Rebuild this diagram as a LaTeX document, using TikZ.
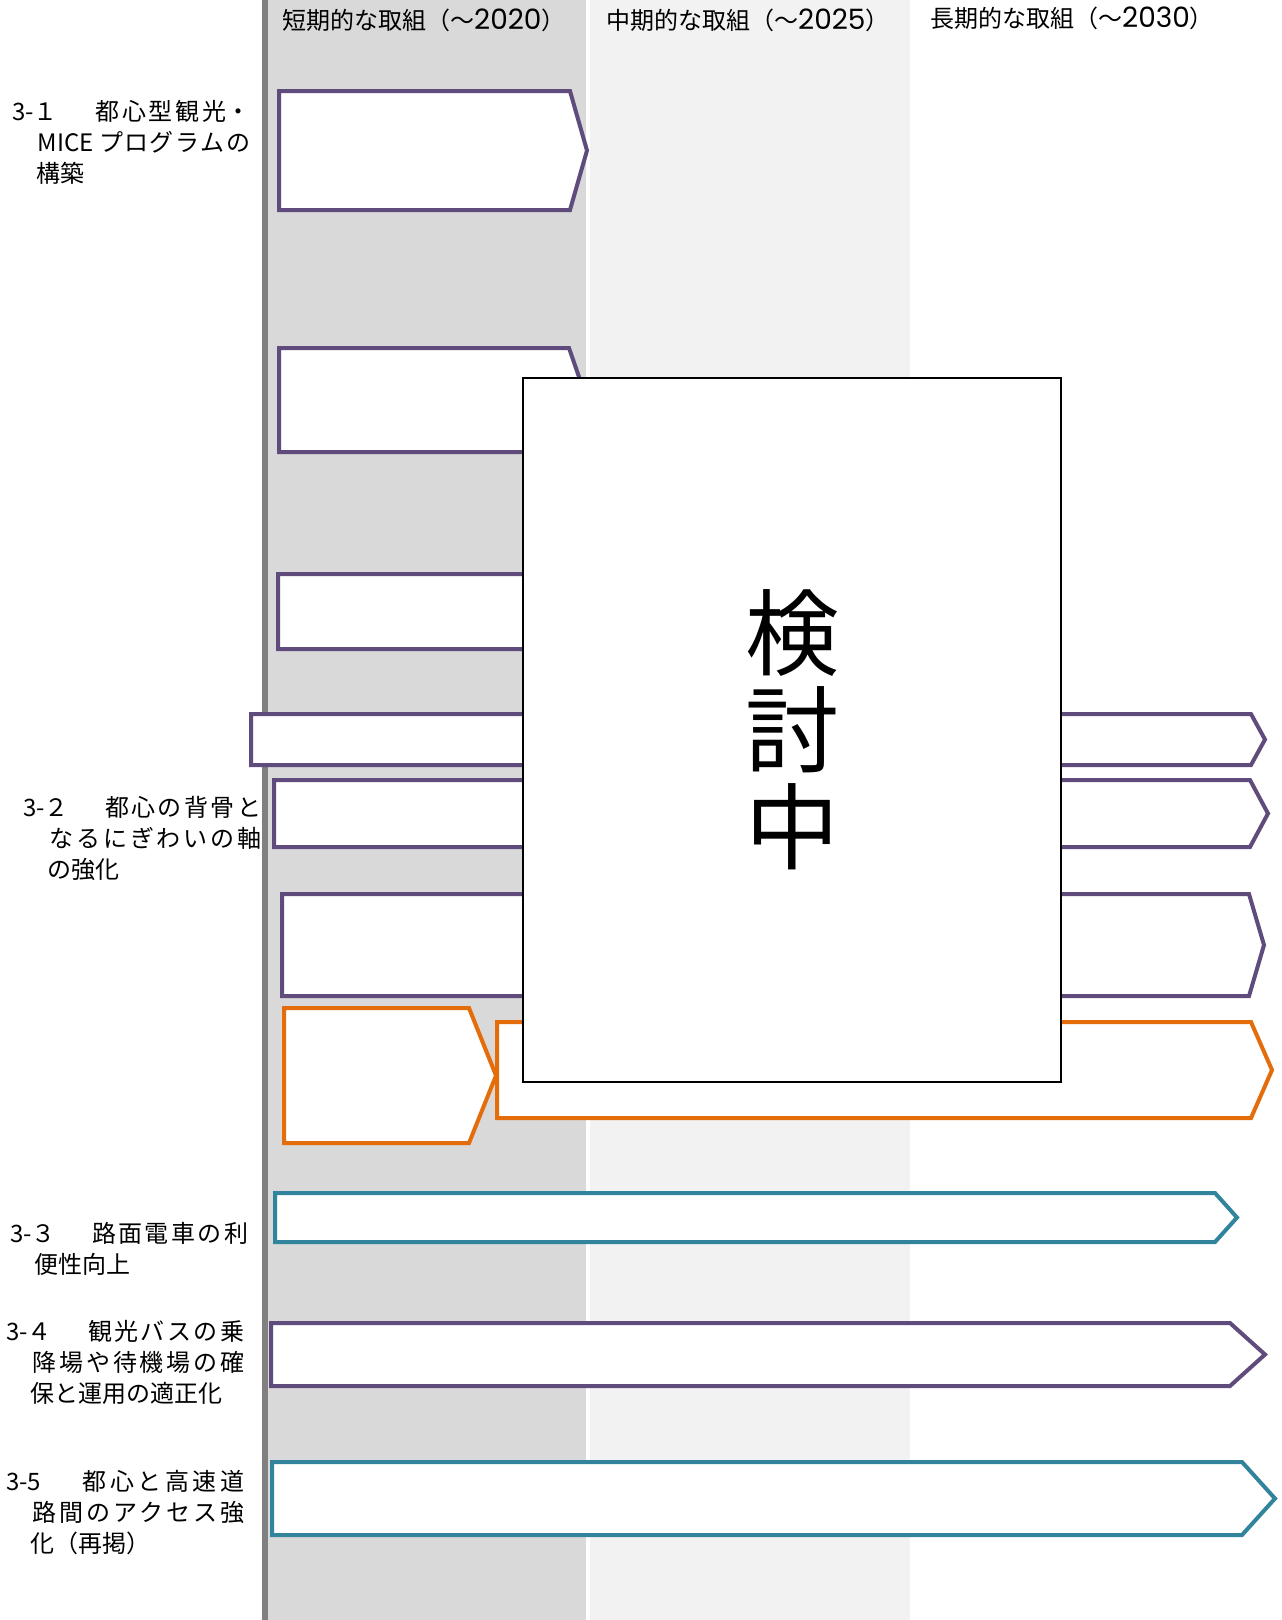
\documentclass[tikz,border=0pt]{standalone}
\usepackage{fontspec}
\setmainfont{Noto Sans CJK JP}
\newfontfamily\numfont{Poppins}
\usepackage{tikz}
\definecolor{purp}{HTML}{604C7C}
\definecolor{oran}{HTML}{E46C0A}
\definecolor{teal2}{HTML}{31849B}
\definecolor{darkcol}{HTML}{D9D9D9}
\definecolor{lightcol}{HTML}{F2F2F2}
\definecolor{midline}{HTML}{808080}
\XeTeXlinebreaklocale "ja"
\XeTeXlinebreakskip=0pt plus 24pt
\newcommand{\yr}[1]{{\numfont\fontsize{28}{28}\selectfont #1}}
\newcommand{\numgap}{\hspace{24pt plus 120pt}}

\begin{document}
\begin{tikzpicture}[x=1pt, y=-1pt,
  purplebox/.style={draw=purp, fill=white, line width=4pt},
  orangebox/.style={draw=oran, fill=white, line width=4pt},
  tealbox/.style={draw=teal2, fill=white, line width=4pt},
  head/.style={anchor=west, inner sep=0, font=\fontsize{24}{28}\selectfont},
  lab/.style={anchor=north west, inner sep=0, text width=238pt, align=justify,
    font=\fontsize{24}{31}\selectfont}]

\useasboundingbox (0,0) rectangle (1282,1620);
%\draw[help lines, step=100] (0,0) grid (1282,1620);

% columns
\fill[darkcol] (268,0) rectangle (586,1620);
\fill[lightcol] (590,0) rectangle (910,1620);
\fill[midline] (262,0) rectangle (268,1620);

\node[head] (hshort) at (282,20) {短期的な取組（～\yr{2020}）};
\node[head] (hmid) at (606,20) {中期的な取組（～\yr{2025}）};
\node[head] (hlong) at (930,18) {長期的な取組（～\yr{2030}）};

\node[lab] (lab31) at (12,100) {3-１\numgap 都心型観光・\linebreak 　MICE プログラムの\linebreak 　構築};
\node[lab] (lab32) at (23,796) {3-２\numgap 都心の背骨と\linebreak 　なるにぎわいの軸\linebreak 　の強化};
\node[lab] (lab33) at (10,1222) {3-３\numgap 路面電車の利\linebreak 　便性向上};
\node[lab] (lab34) at (6,1320) {3-４\numgap 観光バスの乗\linebreak 　降場や待機場の確\linebreak 　保と運用の適正化};
\node[lab] (lab35) at (6,1470) {3-5\numgap 都心と高速道\linebreak 　路間のアクセス強\linebreak 　化（再掲）};

% left x / top / bottom / shoulder / tip
\foreach \xa/\ya/\yb/\xs/\xt in {279/91/210/570/587, 279/348/452/569/587,
  278/574/649/570/587, 251/714/765/1251/1265, 274/780/847/1250/1268,
  282/894/996/1249/1264, 271/1323/1386/1230/1265}
\draw[purplebox] (\xa,\ya) -- (\xs,\ya) -- (\xt,{(\ya+\yb)/2}) -- (\xs,\yb) -- (\xa,\yb) -- cycle;

\foreach \xa/\ya/\yb/\xs/\xt in {284/1008/1143/469/496, 497/1022/1118/1251/1272}
\draw[orangebox] (\xa,\ya) -- (\xs,\ya) -- (\xt,{(\ya+\yb)/2}) -- (\xs,\yb) -- (\xa,\yb) -- cycle;

\foreach \xa/\ya/\yb/\xs/\xt in {275/1193/1242/1215/1237, 272/1462/1535/1242/1275}
\draw[tealbox] (\xa,\ya) -- (\xs,\ya) -- (\xt,{(\ya+\yb)/2}) -- (\xs,\yb) -- (\xa,\yb) -- cycle;

\node[draw, fill=white, line width=1.2pt, minimum width=538pt, minimum height=704pt,
  align=center, font=\fontsize{94}{97}\selectfont] (kentou) at (792,730) {検\\討\\中};

\end{tikzpicture}
\end{document}
